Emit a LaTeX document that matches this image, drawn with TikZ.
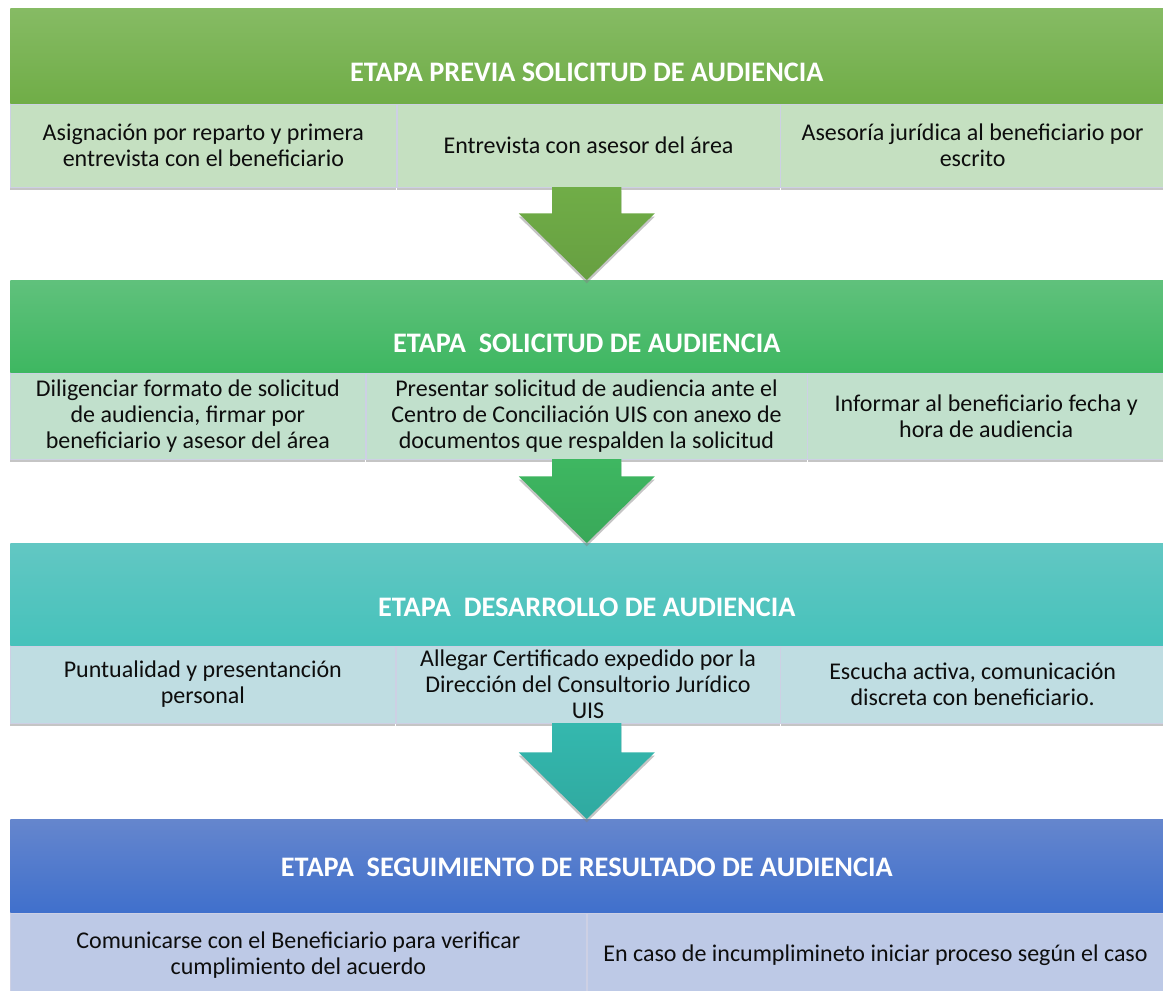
\documentclass[tikz,border=0pt]{standalone}
\usepackage{fontspec}
\setmainfont{Carlito}
\usetikzlibrary{calc,shadows}

\newcommand{\px}{0.75pt}
% colores de las etapas
\definecolor{previaA}{RGB}{134,187,100}
\definecolor{previaB}{RGB}{112,173,71}
\definecolor{previaC}{RGB}{197,224,193}
\definecolor{solicA}{RGB}{96,193,124}
\definecolor{solicB}{RGB}{62,183,97}
\definecolor{solicC}{RGB}{193,224,204}
\definecolor{desarA}{RGB}{98,199,195}
\definecolor{desarB}{RGB}{70,194,187}
\definecolor{desarC}{RGB}{191,221,226}
\definecolor{seguiA}{RGB}{101,134,205}
\definecolor{seguiB}{RGB}{64,112,204}
\definecolor{seguiC}{RGB}{189,201,230}
\definecolor{flechaT}{RGB}{52,184,174}
\definecolor{bordecel}{RGB}{205,208,228}
\definecolor{texto}{RGB}{13,13,13}

\tikzset{
  sombra/.style={drop shadow={shadow xshift=0pt,shadow yshift=-2.5pt,opacity=.45}},
  cabecera/.style={rectangle, inner sep=0pt, anchor=north west,
    minimum width=1153*\px, minimum height=#1*\px, sombra},
  titulo/.style={text=white, font=\fontsize{21.2}{24}\selectfont\bfseries},
  celda/.style 2 args={rectangle, inner sep=0pt, anchor=north west,
    draw=bordecel, line width=.5pt, minimum width=#1*\px,
    minimum height=#2*\px, align=center, text=texto,
    font=\fontsize{18}{19.5}\selectfont, sombra}
}

% flecha de bloque entre dos etapas
\newcommand{\flecha}[4]{%
  \path[top color=#3, bottom color=#4, sombra] let \p1=(#1), \p2=(#2) in
    (\x2-26pt,\y1) -- (\x2+26pt,\y1) -- (\x2+26pt,\y2+50pt)
    -- (\x2+51pt,\y2+50pt) -- (\x2,\y2) -- (\x2-51pt,\y2+50pt)
    -- (\x2-26pt,\y2+50pt) -- cycle;}

\begin{document}
\begin{tikzpicture}[x=0.75pt,y=-0.75pt]
\fill[white] (0,0) rectangle (1163,990);
\useasboundingbox (0,0) rectangle (1163,990);
\clip (0,0) rectangle (1163,990);

% etapa previa
\node[cabecera=95, top color=previaA, bottom color=previaB] (h1) at (10,8) {};
\node[titulo] (t1) at ($(h1.south)+(0,-31)$) {ETAPA PREVIA SOLICITUD DE AUDIENCIA};
\node[celda={386}{83}, fill=previaC] (c11) at (h1.south west)
  {Asignación por reparto y primera\\entrevista con el beneficiario};
\node[celda={383}{83}, fill=previaC] (c12) at (c11.north east)
  {Entrevista con asesor del área};
\node[celda={384}{83}, fill=previaC] (c13) at (c12.north east)
  {Asesoría jurídica al beneficiario por\\escrito};

% etapa solicitud
\node[cabecera=92, top color=solicA, bottom color=solicB] (h2) at (10,280) {};
\flecha{c12.south}{h2.north}{previaB}{previaB!92!black}
\node[titulo] (t2) at ($(h2.south)+(0,-29)$) {ETAPA\ \ SOLICITUD DE AUDIENCIA};
\node[celda={355}{86}, fill=solicC] (c21) at (h2.south west)
  {Diligenciar formato de solicitud\\de audiencia, firmar por\\beneficiario y asesor del área};
\node[celda={441}{86}, fill=solicC] (c22) at (c21.north east)
  {Presentar solicitud de audiencia ante el\\Centro de Conciliación UIS con anexo de\\documentos que respalden la solicitud};
\node[celda={357}{86}, fill=solicC] (c23) at (c22.north east)
  {Informar al beneficiario fecha y\\hora de audiencia};

% etapa desarrollo
\node[cabecera=102, top color=desarA, bottom color=desarB] (h3) at (10,543) {};
\flecha{c22.south}{h3.north}{solicB}{solicB!92!black}
\node[titulo] (t3) at ($(h3.south)+(0,-38)$) {ETAPA\ \ DESARROLLO DE AUDIENCIA};
\node[celda={385}{77}, fill=desarC] (c31) at (h3.south west)
  {Puntualidad y presentanción\\personal};
\node[celda={384}{77}, fill=desarC] (c32) at (c31.north east)
  {Allegar Certificado expedido por la\\Dirección del Consultorio Jurídico\\UIS};
\node[celda={384}{77}, fill=desarC] (c33) at (c32.north east)
  {Escucha activa, comunicación\\discreta con beneficiario.};

% etapa seguimiento
\node[cabecera=93, top color=seguiA, bottom color=seguiB] (h4) at (10,819) {};
\flecha{c32.south}{h4.north}{flechaT}{flechaT!92!black}
\node[titulo] (t4) at ($(h4.south)+(0,-45)$) {ETAPA\ \ SEGUIMIENTO DE RESULTADO DE AUDIENCIA};
\node[celda={576}{84}, fill=seguiC] (c41) at (h4.south west)
  {Comunicarse con el Beneficiario para verificar\\cumplimiento del acuerdo};
\node[celda={577}{84}, fill=seguiC] (c42) at (c41.north east)
  {En caso de incumplimineto iniciar proceso según el caso};
\end{tikzpicture}
\end{document}
